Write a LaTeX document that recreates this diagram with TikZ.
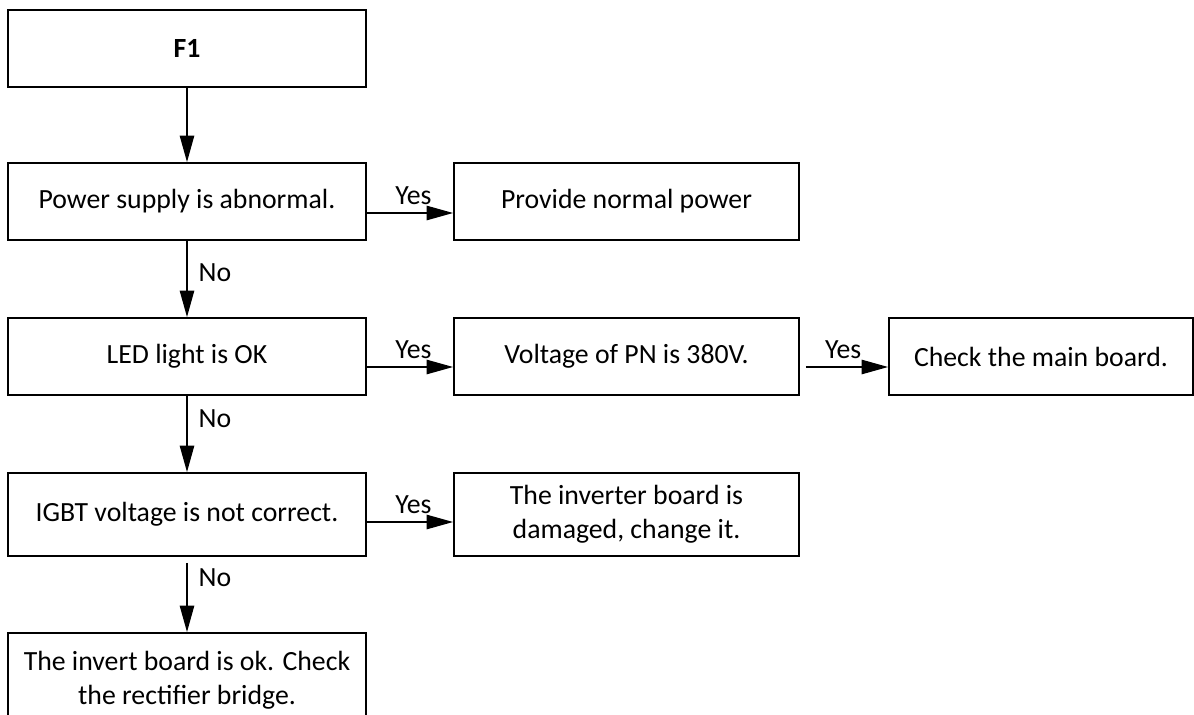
\documentclass[tikz,border=0pt]{standalone}
\usepackage{fontspec}
\setmainfont{Carlito}
\usetikzlibrary{arrows.meta,positioning}

\begin{document}
\begin{tikzpicture}[
    box/.style={rectangle, draw=black, line width=1.1pt, minimum width=7.16cm, minimum height=1.54cm,
               align=center, inner sep=2pt, font=\fontsize{15.8}{19.4}\selectfont},
    lbl/.style={inner sep=0pt, font=\fontsize{15.8}{19.4}\selectfont},
    arr/.style={-{Triangle[length=5.3mm, width=2.9mm]}, line width=0.7pt}
]
    \clip (0,0) rectangle (23.88,-14.3);

    \node[box] (f1)    at (3.74,-0.97) {\textbf{F1}};
    \node[box] (power) at (3.74,-4.03) {Power supply is abnormal.};
    \node[box, minimum width=6.9cm] (normal) at (12.53,-4.03) {Provide normal power};
    \draw[arr] (f1) -- (power);
    \draw[arr] ([yshift=-2.3mm]power.east) -- node[lbl, above=1.6mm, pos=0.54] (yes1) {Yes} ([yshift=-2.3mm]normal.west);

    \node[box] (led) at (3.74,-7.13) {LED light is OK};
    \node[box, minimum width=6.9cm]  (pn)    at (12.53,-7.13) {Voltage of PN is 380V.};
    \node[box, minimum width=6.08cm] (mainb) at (20.82,-7.13) {Check the main board.};
    \draw[arr] (power) -- node[lbl, right=2.2mm, pos=0.42] (no1) {No} (led);
    \draw[arr] ([yshift=-2.1mm]led.east) -- node[lbl, above=1.6mm, pos=0.54] (yes2) {Yes} ([yshift=-2.1mm]pn.west);
    \draw[arr, shorten <=1.2mm] ([yshift=-2.1mm]pn.east) -- node[lbl, above=1.6mm, pos=0.49] (yes3) {Yes} ([yshift=-2.1mm]mainb.west);

    \node[box, minimum height=1.66cm] (igbt) at (3.74,-10.29) {IGBT voltage is not correct.};
    \node[box, minimum width=6.9cm, minimum height=1.66cm] (inverter) at (12.53,-10.29)
        {The inverter board is\\damaged, change it.};
    \draw[arr] (led) -- node[lbl, right=2.2mm, pos=0.3] (no2) {No} (igbt);
    \draw[arr] ([yshift=-1.5mm]igbt.east) -- node[lbl, above=1.6mm, pos=0.54] (yes4) {Yes} ([yshift=-1.5mm]inverter.west);

    \node[box, minimum height=1.88cm] (rect) at (3.74,-13.6) {The invert board is ok. Check\\the rectifier bridge.};
    \draw[arr, shorten <=1.2mm] (igbt) -- node[lbl, right=2.2mm, pos=0.27] (no3) {No} (rect);
\end{tikzpicture}
\end{document}
